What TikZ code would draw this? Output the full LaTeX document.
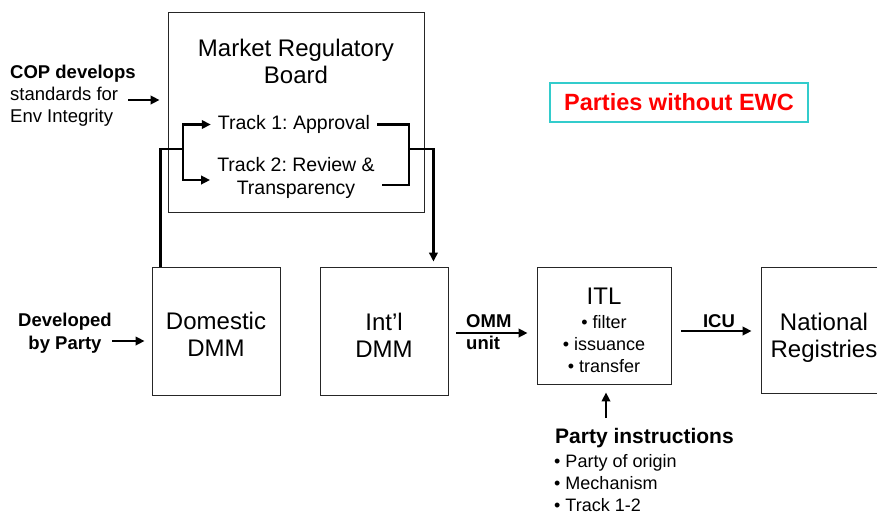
\documentclass[tikz,border=0pt]{standalone}
\usepackage{fontspec}
\setmainfont{Liberation Sans}
\usetikzlibrary{arrows.meta}
\definecolor{ewcteal}{RGB}{51,204,204}
\frenchspacing
\begin{document}
\begin{tikzpicture}[x=1pt,y=-1pt,
  box/.style={draw=black!85, line width=0.9pt, minimum width=128pt, minimum height=128pt, inner sep=0pt},
  conn/.style={line width=2.5pt},
  arr/.style={conn, -{Triangle[length=9pt,width=8.5pt]}},
  bigtxt/.style={font=\fontsize{24}{27}\selectfont, align=center, inner sep=0pt},
  tracktxt/.style={font=\fontsize{19.5}{23}\selectfont, align=center, inner ysep=0pt, inner xsep=7pt},
  smltxt/.style={font=\fontsize{18}{22}\selectfont, inner sep=0pt},
  boldtxt/.style={font=\fontsize{18.5}{23}\selectfont\bfseries, inner sep=0pt},
]
\useasboundingbox (0,0) rectangle (877,515);
\clip (0,0) rectangle (877,515);
\fill[white] (0,0) rectangle (877,515);

% Market Regulatory Board
\node[box, minimum width=256pt, minimum height=200pt] (mrb) at (296,112) {};
\node[bigtxt] (mrbtitle) at (296,61.5) {Market Regulatory\\Board};
\node[tracktxt] (t1) at (294,124.5) {Track 1: Approval};
\node[tracktxt] (t2) at (296,178) {Track 2: Review \&\\Transparency};

% COP text
\node[anchor=north west, align=left, inner sep=0pt, font=\fontsize{18.5}{22}\selectfont] (cop) at (10,65) {\textbf{COP develops}\\standards for\\Env Integrity};
\coordinate (copout) at (128,100);
\draw[arr, shorten >=8pt] (copout) -- (copout -| mrb.west);

% Parties without EWC
\node[draw=ewcteal, line width=2.2pt, minimum width=258pt, minimum height=39pt, inner sep=0pt, text=red, font=\fontsize{23.5}{28}\selectfont\bfseries] (ewc) at (679,102.5) {Parties without EWC};

% Lower boxes
\node[box] (dom) at (216,331) {};
\node[bigtxt] (domtxt) at (216,334) {Domestic\\DMM};
\node[box] (intl) at (384,331) {};
\node[bigtxt] (intltxt) at (384,335) {Int’l\\DMM};
\node[box, minimum width=134pt, minimum height=117pt] (itl) at (604,325.5) {};
\node[bigtxt] (itltitle) at (604,296.5) {ITL};
\node[smltxt, align=center] (itllist) at (604,344.5) {• filter\\• issuance\\• transfer};
\node[box, minimum width=126pt, minimum height=126pt] (nr) at (824,330) {};
\node[bigtxt] (nrtxt) at (824,338) {National\\Registries};

% Developed by Party
\node[boldtxt, align=center] (dev) at (65,333.5) {Developed\\by Party};
\coordinate (devout) at (112,341);
\draw[arr, shorten >=7pt] (devout) -- (devout -| dom.west);

% Track bracket
\coordinate (bl) at (183,149);
\coordinate (br) at (409,149);
\draw[conn] ([xshift=9pt]dom.north west) |- (bl);
\draw[arr] (bl) |- (t1.west);
\draw[arr] (bl) |- ([yshift=-2pt]t2.west);
\draw[conn] (t1.east) -| (br) |- ([yshift=-7pt]t2.east);
\draw[arr] (br) -| ([xshift=-15pt,yshift=5pt]intl.north east);

% OMM unit
\draw[arr, shorten <=8pt, shorten >=9pt] ([yshift=-2pt]intl.east) -- ([yshift=-2pt]intl.east -| itl.west);
\node[boldtxt, anchor=west] (omm) at (466,321) {OMM};
\node[boldtxt, anchor=west] (unit) at (466,343) {unit};

% ICU
\draw[arr, shorten <=10pt, shorten >=9pt] ([yshift=-5.5pt]itl.east) -- ([yshift=-5.5pt]itl.east -| nr.west);
\node[boldtxt] (icu) at (719,321) {ICU};

% Party instructions
\node[anchor=west, inner sep=0pt, font=\fontsize{21}{25}\selectfont\bfseries] (pi) at (555,438) {Party instructions};
\node[smltxt, anchor=north west, align=left] (pilist) at (554,454.5) {• Party of origin\\• Mechanism\\• Track 1-2};
\coordinate (piout) at (606,418);
\draw[arr, shorten >=8pt] (piout) -- (piout |- itl.south);
\end{tikzpicture}
\end{document}
